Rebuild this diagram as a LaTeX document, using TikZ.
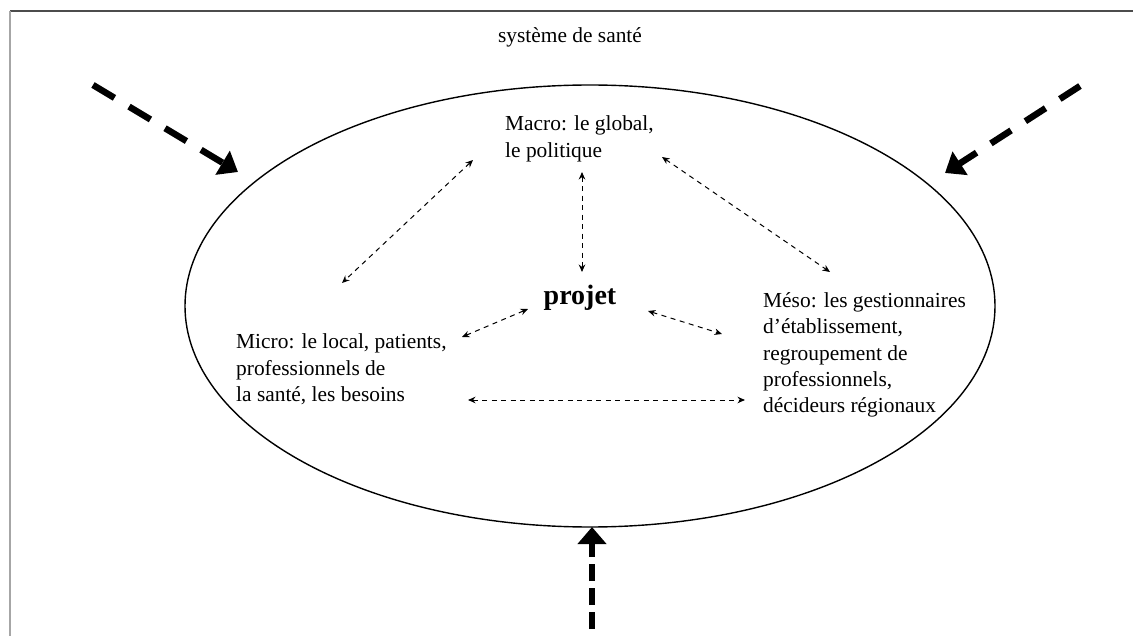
\documentclass[tikz,border=0pt]{standalone}
\usepackage{fontspec}
\setmainfont{Liberation Serif}
\usetikzlibrary{arrows.meta}
\begin{document}
\begin{tikzpicture}[x=1pt,y=-1pt,
  lbl/.style={inner sep=0pt, font=\fontsize{21.4}{26.5}\selectfont, align=left},
  link/.style={dash pattern=on 5pt off 4.5pt, line width=1pt,
    {Stealth[length=7.5pt,width=6.5pt]}-{Stealth[length=7.5pt,width=6.5pt]}},
  push/.style={line width=6.5pt, line cap=butt, -{Triangle[length=18pt,width=27pt]}},
]
\useasboundingbox (0,0) rectangle (1133,636);
% page frame (top and left edges)
\draw[line width=1.2pt, black!70] (10,11) -- (1133,11);
\draw[line width=2pt, black!35] (10,11) -- (10,636);

% health system boundary
\draw[line width=1.4pt] (590,306) ellipse [x radius=405, y radius=221];

% labels (base anchor sits on the last line)
\node[lbl, anchor=base] (sys) at (570,43) {système de santé};
\node[lbl, anchor=base west] (macro) at (505,157.5) {Macro: le global,\\le politique};
\node[inner sep=0pt, anchor=base, font=\fontsize{28}{30}\selectfont\bfseries] (proj) at (580,305) {projet};
\node[lbl, anchor=base west] (micro) at (236,402) {Micro: le local, patients,\\professionnels de\\la santé, les besoins};
\node[lbl, anchor=base west] (meso) at (763,413) {Méso: les gestionnaires\\d’établissement,\\regroupement de\\professionnels,\\décideurs régionaux};

% connector end points
\coordinate (ma-mi) at (473,160);
\coordinate (mi-ma) at (342,283);
\coordinate (ma-pr) at (582,172);
\coordinate (pr-ma) at (582,272);
\coordinate (ma-me) at (662,157);
\coordinate (me-ma) at (830,272);
\coordinate (mi-pr) at (462,337);
\coordinate (pr-mi) at (528,309);
\coordinate (pr-me) at (648,311);
\coordinate (me-pr) at (722,334);
\coordinate (mi-me) at (468,400);
\coordinate (me-mi) at (745,400);

\draw[link] (ma-mi) -- (mi-ma);
\draw[link] (ma-pr) -- (pr-ma);
\draw[link] (ma-me) -- (me-ma);
\draw[link] (mi-pr) -- (pr-mi);
\draw[link] (pr-me) -- (me-pr);
\draw[link] (mi-me) -- (me-mi);

% external pressures
\coordinate (inL) at (93,85);
\coordinate (tipL) at (238,172);
\coordinate (inR) at (1080,86);
\coordinate (tipR) at (945,173);
\coordinate (inB) at (592,629);
\coordinate (tipB) at (592,527);
\draw[push, dash pattern=on 25pt off 17pt] (inL) -- (tipL);
\draw[push, dash pattern=on 24pt off 17pt] (inR) -- (tipR);
\draw[push, dash pattern=on 17pt off 7pt, -{Triangle[length=17pt,width=28pt]}] (inB) -- (tipB);
\end{tikzpicture}
\end{document}
